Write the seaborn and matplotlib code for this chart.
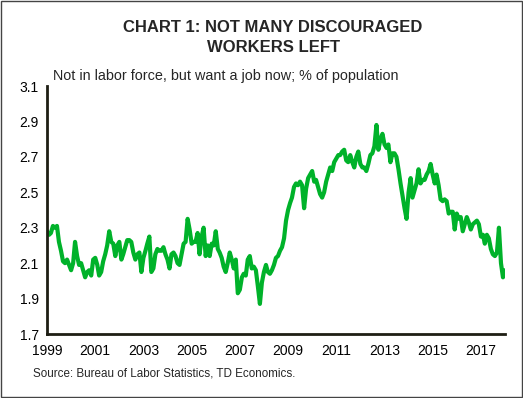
import numpy as np
import pandas as pd
import matplotlib
matplotlib.use("Agg")
import matplotlib.pyplot as plt
from matplotlib.patches import Rectangle
import seaborn as sns

# Monthly values, % of population (Jan 1999 - Jan 2018)
v1999 = [2.28, 2.26, 2.27, 2.31, 2.30, 2.31, 2.22, 2.17, 2.11, 2.10, 2.12, 2.09]
v2000 = [2.06, 2.10, 2.22, 2.14, 2.09, 2.10, 2.06, 2.02, 2.05, 2.06, 2.03, 2.12]
v2001 = [2.13, 2.09, 2.03, 2.05, 2.11, 2.15, 2.20, 2.28, 2.22, 2.21, 2.14, 2.20]
v2002 = [2.22, 2.12, 2.15, 2.19, 2.23, 2.23, 2.22, 2.16, 2.12, 2.15, 2.16, 2.05]
v2003 = [2.13, 2.17, 2.21, 2.25, 2.05, 2.07, 2.15, 2.18, 2.17, 2.17, 2.19, 2.15]
v2004 = [2.12, 2.07, 2.15, 2.16, 2.14, 2.10, 2.09, 2.15, 2.21, 2.22, 2.35, 2.29]
v2005 = [2.21, 2.22, 2.22, 2.27, 2.15, 2.25, 2.30, 2.14, 2.20, 2.14, 2.21, 2.20]
v2006 = [2.28, 2.18, 2.16, 2.13, 2.08, 2.05, 2.10, 2.16, 2.12, 2.07, 2.12, 1.93]
v2007 = [1.95, 2.02, 2.04, 2.03, 2.12, 2.14, 2.07, 2.08, 2.06, 1.97, 1.87, 1.99]
v2008 = [2.05, 2.09, 2.05, 2.04, 2.06, 2.09, 2.13, 2.14, 2.17, 2.19, 2.24, 2.34]
v2009 = [2.40, 2.44, 2.47, 2.53, 2.55, 2.54, 2.56, 2.54, 2.41, 2.52, 2.58, 2.60]
v2010 = [2.62, 2.56, 2.57, 2.53, 2.49, 2.47, 2.50, 2.56, 2.60, 2.64, 2.62, 2.67]
v2011 = [2.69, 2.71, 2.71, 2.73, 2.74, 2.68, 2.67, 2.71, 2.67, 2.64, 2.70, 2.73]
v2012 = [2.66, 2.64, 2.64, 2.62, 2.66, 2.71, 2.72, 2.76, 2.88, 2.74, 2.80, 2.83]
v2013 = [2.77, 2.75, 2.77, 2.67, 2.72, 2.72, 2.70, 2.63, 2.55, 2.48, 2.41, 2.35]
v2014 = [2.50, 2.58, 2.47, 2.51, 2.55, 2.63, 2.55, 2.57, 2.57, 2.60, 2.62, 2.66]
v2015 = [2.60, 2.55, 2.60, 2.54, 2.46, 2.45, 2.46, 2.45, 2.38, 2.39, 2.39, 2.29]
v2016 = [2.38, 2.35, 2.36, 2.28, 2.32, 2.36, 2.33, 2.29, 2.32, 2.33, 2.34, 2.32]
v2017 = [2.25, 2.26, 2.21, 2.26, 2.24, 2.18, 2.15, 2.14, 2.16, 2.30, 2.10, 2.02]
v2018 = [2.06]

start_month = "1999-01-01"
y_ticks = [1.7, 1.9, 2.1, 2.3, 2.5, 2.7, 2.9, 3.1]
x_tick_years = [1999, 2001, 2003, 2005, 2007, 2009, 2011, 2013, 2015, 2017]

title = "CHART 1: NOT MANY DISCOURAGED\nWORKERS LEFT"
subtitle = "Not in labor force, but want a job now; % of population"
source = "Source: Bureau of Labor Statistics, TD Economics."

values = (v1999 + v2000 + v2001 + v2002 + v2003 + v2004 + v2005 + v2006 + v2007
          + v2008 + v2009 + v2010 + v2011 + v2012 + v2013 + v2014 + v2015 + v2016
          + v2017 + v2018)
dates = pd.date_range(start_month, periods=len(values), freq="MS")
df = pd.DataFrame({"date": dates, "value": values})

sns.set_style("white")
plt.rcParams["font.family"] = ["Liberation Sans", "DejaVu Sans"]

fig = plt.figure(figsize=(5.23, 3.98), dpi=100)
ax = fig.add_axes([47 / 523, 1 - 334 / 398, (505 - 47) / 523, (334 - 86) / 398])

sns.lineplot(data=df, x="date", y="value", ax=ax, color="#00b22a", linewidth=3.0)

ax.set_xlim(dates[0], dates[-1])
ax.set_ylim(1.7, 3.1)
ax.set_yticks(y_ticks)
ax.set_yticklabels([f"{t:.1f}" for t in y_ticks])
ax.set_xticks([pd.Timestamp(f"{y}-01-01") for y in x_tick_years])
ax.set_xticklabels([str(y) for y in x_tick_years])
ax.tick_params(axis="both", length=0, labelsize=10, colors="black")
ax.tick_params(axis="y", pad=6)
ax.tick_params(axis="x", pad=7)
ax.set_xlabel("")
ax.set_ylabel("")
for s in ["top", "right"]:
    ax.spines[s].set_visible(False)
for s in ["left", "bottom"]:
    ax.spines[s].set_color("#1e1e14")
    ax.spines[s].set_linewidth(2.0)

fig.text(0.522, 1 - 37.5 / 398, title, ha="center", va="center", fontsize=12,
         fontweight="bold", linespacing=1.4)
fig.text(53 / 523, 1 - 76 / 398, subtitle, ha="left", va="center", fontsize=10.4)
fig.text(33 / 523, 1 - 374 / 398, source, ha="left", va="center", fontsize=8.4)

fig.patches.append(Rectangle((1 / 523, 1 / 398), 521 / 523, 396 / 398,
                             transform=fig.transFigure, fill=False,
                             edgecolor="#444444", linewidth=1.0))

fig.savefig("out.png", dpi=100)
